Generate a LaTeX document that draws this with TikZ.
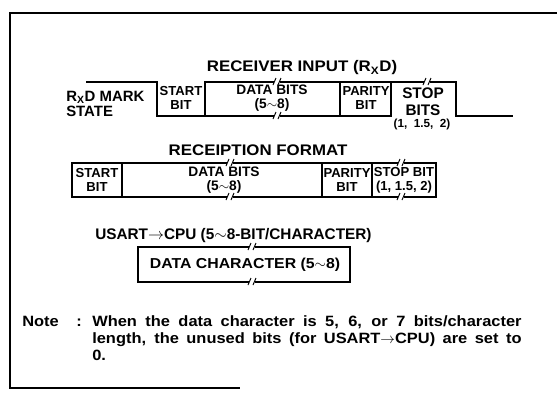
\documentclass[tikz,border=0pt]{standalone}
\usepackage{fontspec}
\setmainfont{Liberation Sans}
\newfontfamily\widefont[FakeStretch=1.1]{Liberation Sans}
\newcommand{\tld}{$\sim$}
\newcommand{\rarr}{$\rightarrow$}
\begin{document}
\begin{tikzpicture}[x=0.75pt,y=-0.75pt,
  frame/.style={line width=1.1pt},
  wave/.style={line width=1.3pt, line join=miter, line cap=rect},
  ttl/.style={font=\widefont\bfseries\fontsize{11.5}{13}\selectfont, inner sep=0pt},
  lbl/.style={font=\bfseries\fontsize{9.8}{10.2}\selectfont, inner sep=0pt, align=center},
  notetxt/.style={font=\widefont\bfseries\fontsize{11.2}{12}\selectfont, inner sep=0pt, anchor=base west},
  brk/.pic={\fill[white] (-3,-3) rectangle (3,3);
            \draw[line width=0.7pt] (-4,3) -- (-1,-4) (1,3) -- (4,-4);}
]
\useasboundingbox (0,0) rectangle (557,394);
% outer frame
\coordinate (fa) at (557,13);
\coordinate (fb) at (10,13);
\coordinate (fc) at (10,388);
\coordinate (fd) at (240,388);
\draw[frame] (fa) -- (fb) -- (fc) -- (fd);

% ---------- receiver input ----------
\node[ttl] (t1) at (302,68) {RECEIVER INPUT (R\textsubscript{X}D)};
\coordinate (m0) at (87,82);
\coordinate (m1) at (157,82);
\coordinate (s0) at (157,116);
\coordinate (s1) at (205,116);
\coordinate (d0) at (205,82);
\coordinate (d1) at (340,82);
\coordinate (d2) at (340,116);
\coordinate (p1) at (391,82);
\coordinate (p2) at (391,116);
\coordinate (q1) at (456,82);
\coordinate (q2) at (456,116);
\coordinate (e0) at (512,116);
\draw[wave] (m0) -- (m1) -- (s0) -- (p2) -- (p1);
\draw[wave] (s1) -- (d0) -- (q1) -- (q2) -- (e0);
\draw[wave] (d1) -- (d2);
\pic at (277,82) {brk};
\pic at (277,116) {brk};
\pic at (427,82) {brk};
\node[lbl, font=\bfseries\fontsize{11.2}{11.5}\selectfont, align=left, anchor=west] (mk) at (66,104) {R\textsubscript{X}D MARK\\STATE};
\node[lbl] (sb) at (181,98) {START\\BIT};
\node[lbl, font=\bfseries\fontsize{10.3}{10.8}\selectfont] (db) at (272,98) {DATA BITS\\(5\tld8)};
\node[lbl] (pb) at (366,98) {PARITY\\BIT};
\node[lbl, font=\bfseries\fontsize{11.5}{12.5}\selectfont] (stb) at (423,102) {STOP\\BITS};
\node[lbl, font=\bfseries\fontsize{8.8}{9}\selectfont] (stn) at (422,124) {(1,\ \ 1.5,\ \ 2)};

% ---------- reception format ----------
\node[ttl] (t2) at (258,150) {RECEIPTION FORMAT};
\coordinate (r0) at (72,163);
\coordinate (r1) at (436,197);
\draw[wave] (r0) rectangle (r1);
\coordinate (ra) at (122,163); \coordinate (rb) at (122,197);
\coordinate (rc) at (322,163); \coordinate (rd) at (322,197);
\coordinate (re) at (372,163); \coordinate (rf) at (372,197);
\draw[wave] (ra) -- (rb) (rc) -- (rd) (re) -- (rf);
\pic at (230,163) {brk};
\pic at (230,197) {brk};
\pic at (401,163) {brk};
\pic at (401,197) {brk};
\node[lbl] (rs) at (97,180) {START\\BIT};
\node[lbl, font=\bfseries\fontsize{10.3}{10.8}\selectfont] (rdb) at (224,180) {DATA BITS\\(5\tld8)};
\node[lbl] (rp) at (347,180) {PARITY\\BIT};
\node[lbl] (rst) at (404,180) {STOP BIT\\(1,\ 1.5,\ 2)};

% ---------- USART -> CPU ----------
\node[ttl, font=\bfseries\fontsize{11.5}{13}\selectfont, anchor=west] (t3) at (95,236) {USART\rarr CPU (5\tld8-BIT/CHARACTER)};
\coordinate (c0) at (138,247);
\coordinate (c1) at (350,282);
\draw[wave] (c0) rectangle (c1);
\pic at (252,247) {brk};
\pic at (252,282) {brk};
\node[ttl, font=\widefont\bfseries\fontsize{10.8}{12}\selectfont] (dc) at (245,265) {DATA CHARACTER (5\tld8)};

% ---------- note ----------
\node[notetxt] (n0) at (22,326) {Note};
\node[notetxt] (n1) at (76,326) {:};
\node[notetxt] (n2) at (92,326) {\makebox[322pt][s]{When the data character is 5, 6, or 7 bits/character}};
\node[notetxt] (n3) at (92,343) {\makebox[322pt][s]{length, the unused bits (for USART\rarr CPU) are set to}};
\node[notetxt] (n4) at (92,360) {0.};
\end{tikzpicture}
\end{document}
